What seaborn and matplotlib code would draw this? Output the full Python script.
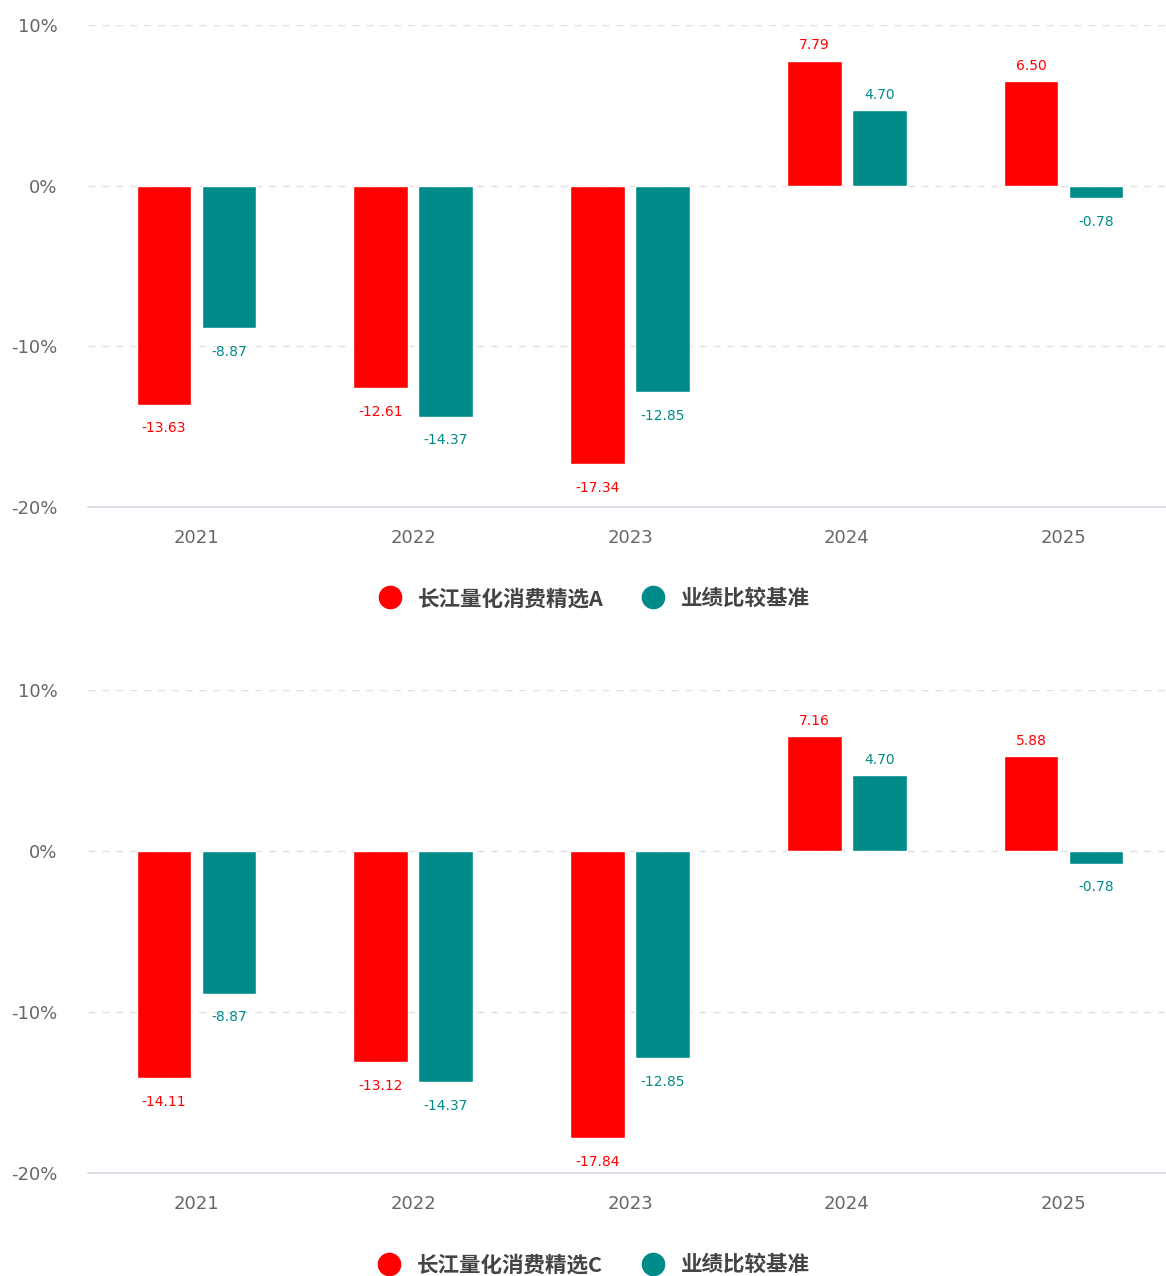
import matplotlib
matplotlib.use("Agg")
import matplotlib.pyplot as plt
from matplotlib.lines import Line2D
import seaborn as sns
import pandas as pd

years = ["2021", "2022", "2023", "2024", "2025"]
fund_a = [-13.63, -12.61, -17.34, 7.79, 6.50]
fund_c = [-14.11, -13.12, -17.84, 7.16, 5.88]
bench = [-8.87, -14.37, -12.85, 4.70, -0.78]
name_a = "长江量化消费精选A"
name_c = "长江量化消费精选C"
name_b = "业绩比较基准"
yticks = [-20, -10, 0, 10]
ytick_labels = ["-20%", "-10%", "0%", "10%"]

RED = "#ff0000"
TEAL = "#008b8b"

sns.set_theme(style="white")
plt.rcParams["font.family"] = ["DejaVu Sans", "Noto Sans CJK SC"]

fig = plt.figure(figsize=(11.66, 12.76), dpi=100)
ax1 = fig.add_axes([0.0755, 0.6027, 0.9297, 0.3777])
ax2 = fig.add_axes([0.0755, 0.0807, 0.9297, 0.3785])


def draw(ax, fund, fund_name):
    df = pd.DataFrame({
        "year": years * 2,
        "value": fund + bench,
        "series": [fund_name] * len(years) + [name_b] * len(years),
    })
    sns.barplot(data=df, x="year", y="value", hue="series",
                palette=[RED, TEAL], width=0.6, gap=0.16, ax=ax,
                saturation=1, legend=False, errorbar=None)
    for cont, col in zip(ax.containers, [RED, TEAL]):
        for rect, v in zip(cont.patches, cont.datavalues):
            x = rect.get_x() + rect.get_width() / 2
            off = 11 if v >= 0 else -17
            ax.annotate(f"{v:.2f}", xy=(x, v), xytext=(0, off),
                        textcoords="offset points", ha="center", va="center",
                        color=col, fontsize=10)
    ax.set_ylim(-20, 10)
    ax.set_xlim(-0.5, 4.5)
    ax.set_yticks(yticks)
    ax.set_yticklabels(ytick_labels)
    ax.tick_params(axis="both", length=0, labelsize=13, colors="#666666")
    ax.tick_params(axis="y", pad=22)
    ax.tick_params(axis="x", pad=16)
    for y in [-10, 0, 10]:
        ax.axhline(y, color="#e0e0e0", lw=1, ls=(0, (5, 5)), zorder=0)
    for s in ["left", "right", "top"]:
        ax.spines[s].set_visible(False)
    ax.spines["bottom"].set_color("#d5d8e6")
    ax.spines["bottom"].set_linewidth(1.2)
    ax.set_xlabel("")
    ax.set_ylabel("")
    handles = [
        Line2D([], [], marker="o", ls="", markersize=16, color=RED),
        Line2D([], [], marker="o", ls="", markersize=16, color=TEAL),
    ]
    ax.legend(handles, [fund_name, name_b], loc="center",
              bbox_to_anchor=(0.462, -0.19), ncol=2, frameon=False,
              prop={"family": ["Noto Sans CJK SC"], "size": 15.5, "weight": "bold"},
              labelcolor="#444444", handletextpad=0.3, columnspacing=1.3)


draw(ax1, fund_a, name_a)
draw(ax2, fund_c, name_c)

fig.savefig("out.png", dpi=100, facecolor="white")
